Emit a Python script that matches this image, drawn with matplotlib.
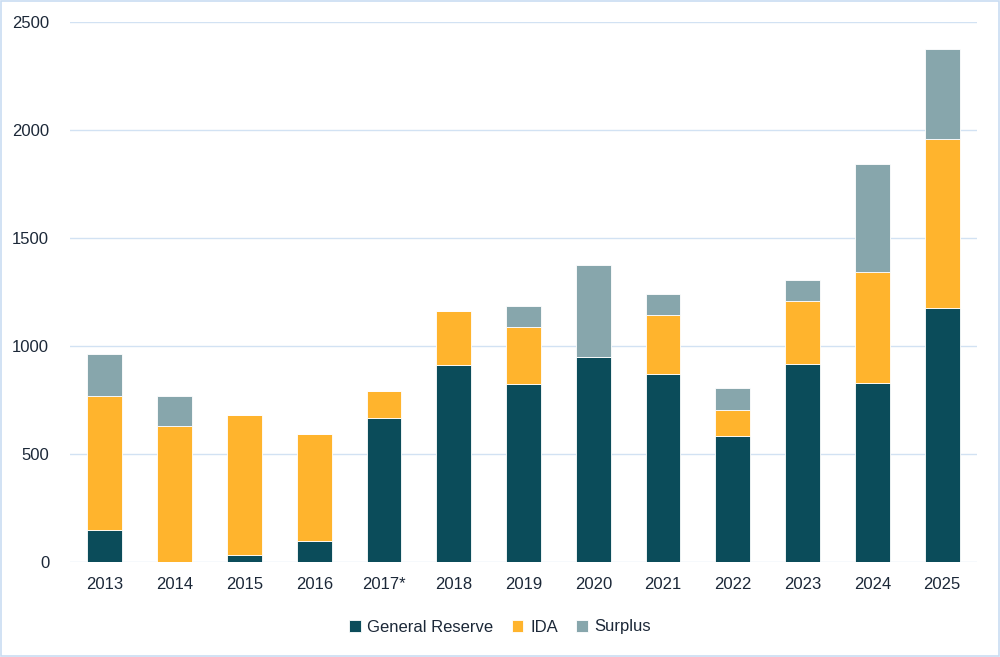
import matplotlib
matplotlib.use("Agg")
import matplotlib.pyplot as plt
from matplotlib.patches import Rectangle
import numpy as np

plt.rcParams['font.family'] = ['Liberation Sans', 'DejaVu Sans']

years = ["2013", "2014", "2015", "2016", "2017*", "2018", "2019", "2020",
         "2021", "2022", "2023", "2024", "2025"]
general_reserve = [145, 0, 32, 94, 668, 911, 826, 948, 870, 585, 918, 830, 1178]
ida = [621, 631, 650, 496, 124, 249, 261, 0, 274, 119, 289, 514, 780]
surplus = [197, 135, 0, 0, 0, 0, 98, 429, 99, 99, 100, 499, 420]
yticks = [0, 500, 1000, 1500, 2000, 2500]

c_gr = "#0B4C5A"
c_ida = "#FFB42D"
c_sur = "#87A6AC"
text_c = "#1C2838"
grid_c = "#D2E2F3"

fig = plt.figure(figsize=(10, 6.57), dpi=100)
ax = fig.add_axes([0.07, 0.145, 0.907, 0.821])

x = np.arange(len(years))
gr = np.array(general_reserve)
id_ = np.array(ida)
su = np.array(surplus)
w = 0.5
ax.bar(x, gr, w, color=c_gr, edgecolor="#FFFFFF", linewidth=0.6, label="General Reserve", zorder=3)
ax.bar(x, id_, w, bottom=gr, color=c_ida, edgecolor="#FFFFFF", linewidth=0.6, label="IDA", zorder=3)
ax.bar(x, su, w, bottom=gr + id_, color=c_sur, edgecolor="#FFFFFF", linewidth=0.6, label="Surplus", zorder=3)

ax.set_xlim(-0.5, len(years) - 0.5)
ax.set_ylim(0, 2500)
ax.set_yticks(yticks)
ax.set_yticklabels([str(v) for v in yticks])
ax.set_xticks(x)
ax.set_xticklabels(years)
ax.tick_params(axis='both', length=0, labelsize=12, colors=text_c)
ax.tick_params(axis='x', pad=11)
ax.tick_params(axis='y', pad=15)
ax.yaxis.grid(True, color=grid_c, linewidth=1.0, zorder=0)
for s in ax.spines.values():
    s.set_visible(False)

leg = fig.legend(loc='center', bbox_to_anchor=(0.5, 1 - 627 / 657), ncol=3, frameon=False,
                 fontsize=12, handlelength=0.7, handleheight=0.7, handletextpad=0.4,
                 columnspacing=1.1, labelcolor=text_c)

fig.patches.append(Rectangle((0.001, 0.001), 0.998, 0.998, transform=fig.transFigure,
                             fill=False, edgecolor="#C9DDF2", linewidth=1.2))

fig.savefig("out.png", dpi=100)
